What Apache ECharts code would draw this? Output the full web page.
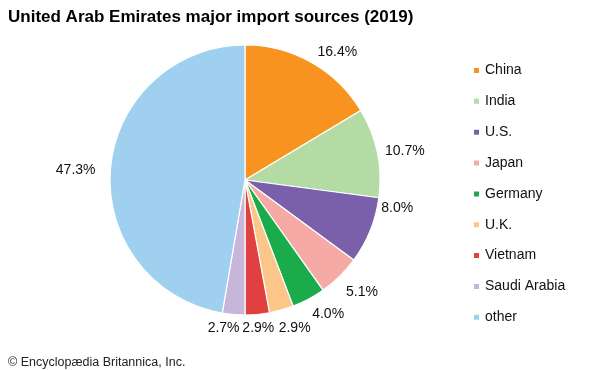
<!DOCTYPE html>
<html><head><meta charset="utf-8">
<script src="https://cdn.jsdelivr.net/npm/echarts@6/dist/echarts.min.js"></script>
<style>html,body{margin:0;padding:0;background:#fff}#c{width:600px;height:370px}</style>
</head><body><div id="c"></div>
<script>
const categories = ["China","India","U.S.","Japan","Germany","U.K.","Vietnam","Saudi Arabia","other"];
const values = [16.4,10.7,8.0,5.1,4.0,2.9,2.9,2.7,47.3];
const colors = ["#f7931e","#b3dba3","#7a60ab","#f6aaa6","#1aab4b","#fcc68b","#e0403f","#c8b6da","#9fd0f0"];
const titleText = "United Arab Emirates major import sources (2019)";
const creditText = "© Encyclopædia Britannica, Inc.";
// small label nudges (dx, dy) to mimic the hand-placed labels of the original
const labelNudge = {1:[-4,1],2:[0,-27],3:[-2,7],4:[-2,4],5:[-6,7],6:[-16,2],7:[7,2],8:[-3,3]};

const FONT = 'Liberation Sans, Arial, sans-serif';
const chart = echarts.init(document.getElementById('c'));
chart.setOption({
  animation:false,
  textStyle:{fontFamily:FONT},
  title:[
    {text:titleText,left:3,top:4,textStyle:{fontSize:17,fontWeight:'bold',color:'#000',fontFamily:FONT}},
    {text:creditText,left:3,top:351,textStyle:{fontSize:12.5,fontWeight:'normal',color:'#222',fontFamily:FONT}}
  ],
  legend:{
    orient:'vertical',left:467,top:58.5,itemWidth:7,itemHeight:7,itemGap:16.85,
    icon:'rect',
    textStyle:{fontSize:14,color:'#111'},
    data:categories
  },
  series:[{
    type:'pie',
    center:[245,180],radius:135,
    startAngle:90,clockwise:true,
    avoidLabelOverlap:false,
    itemStyle:{borderColor:'#fff',borderWidth:1.2},
    label:{show:true,position:'outside',distanceToLabelLine:0,formatter:p=>p.value.toFixed(1)+'%',fontSize:14,color:'#111'},
    labelLine:{show:false,length:12,length2:0},
    labelLayout:function(p){
      const n = labelNudge[p.dataIndex];
      return {hideOverlap:false, dx:n?n[0]:0, dy:n?n[1]:0};
    },
    emphasis:{disabled:true},
    data:categories.map((c,i)=>({name:c,value:values[i],itemStyle:{color:colors[i]}}))
  }]
});
</script></body></html>
